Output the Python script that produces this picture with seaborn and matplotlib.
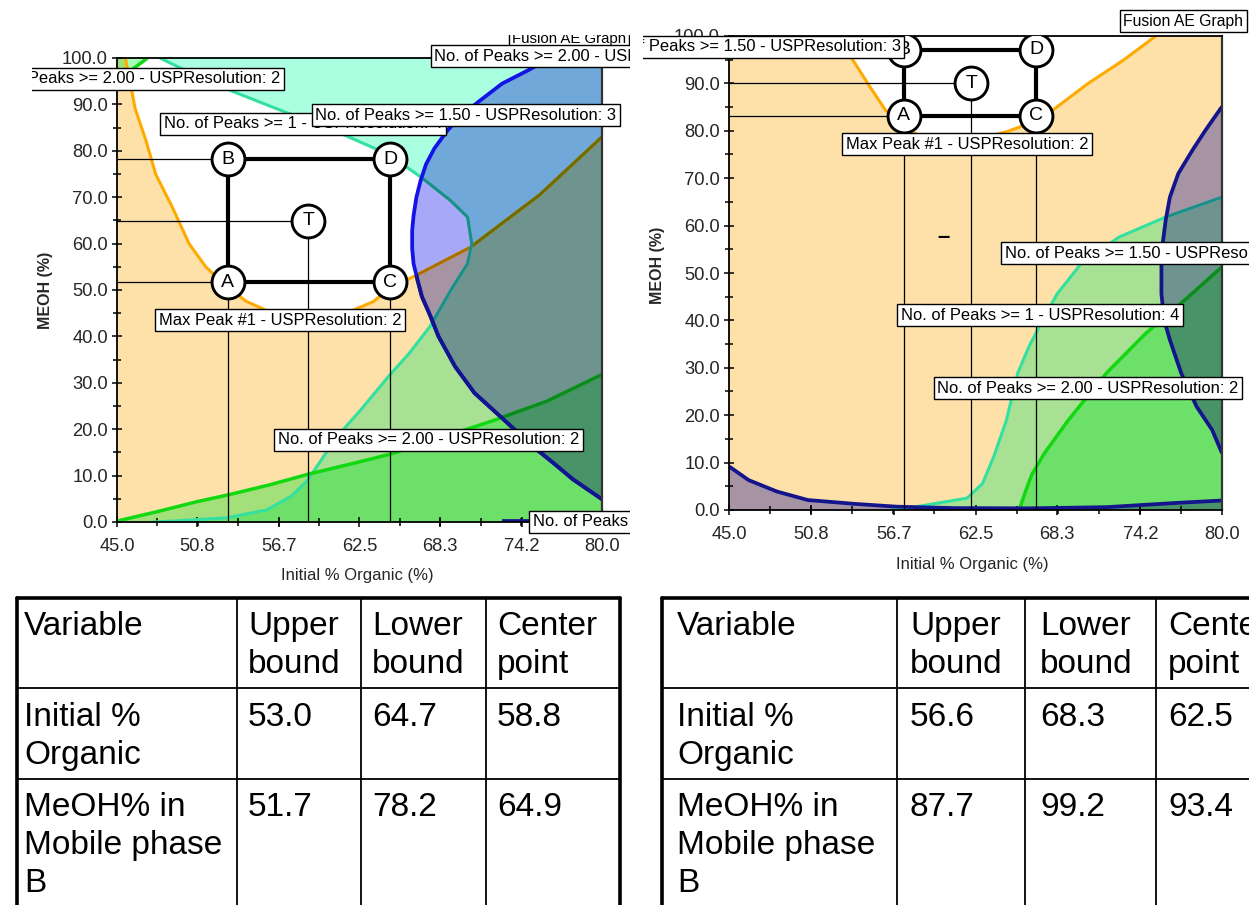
import numpy as np
import matplotlib
matplotlib.use("Agg")
import matplotlib.pyplot as plt
import seaborn as sns
from matplotlib.path import Path
from matplotlib.patches import PathPatch
from matplotlib.transforms import Bbox, TransformedBbox
from matplotlib.ticker import FixedLocator, FormatStrFormatter

# ---------------------------------------------------------------- data
table_headers = ["Variable", "Upper\nbound", "Lower\nbound", "Center\npoint"]
table_variables = ["Initial %\nOrganic", "MeOH% in\nMobile phase\nB"]
left_upper = [53.0, 51.7]
left_lower = [64.7, 78.2]
left_center = [58.8, 64.9]
right_upper = [56.6, 87.7]
right_lower = [68.3, 99.2]
right_center = [62.5, 93.4]

# design box of the second graph (low, high, centre)
right_box_x = [57.4, 66.8, 62.2]
right_box_y = [83.2, 97.1, 90.0]

x_ticks = [45.0, 50.8, 56.7, 62.5, 68.3, 74.2, 80.0]
y_ticks = [0.0, 10.0, 20.0, 30.0, 40.0, 50.0, 60.0, 70.0, 80.0, 90.0, 100.0]

# constraint boundaries, first graph
l_max_x = [45.6, 46.0, 46.3, 47.1, 47.8, 49.0, 50.2, 51.4, 52.7, 54.3, 56.0, 58.0,
           60.0, 62.0, 63.5, 64.6, 67.0, 70.5, 75.5, 80.0]
l_max_y = [100.0, 94.0, 89.2, 82.1, 74.9, 67.8, 60.0, 55.0, 51.4, 47.6, 45.3, 44.3,
           44.5, 45.6, 47.5, 50.2, 53.8, 59.2, 70.5, 83.0]
l_p1_x = [48.1, 50.5, 53.1, 57.0, 60.8, 64.6, 67.0, 69.1, 70.3, 70.6, 70.3, 69.1,
          67.6, 66.1, 64.6, 62.6, 61.5, 60.4, 59.5, 58.7, 57.6, 55.8, 52.9, 49.0, 47.5]
l_p1_y = [100.0, 96.5, 93.1, 88.5, 84.2, 79.2, 74.2, 69.2, 65.7, 60.0, 55.7, 50.0,
          42.2, 36.4, 31.4, 24.2, 20.5, 16.3, 12.3, 8.8, 5.6, 2.6, 0.9, 0.2, 0.0]
l_p2_x = [45.0, 48.0, 50.8, 53.1, 56.0, 58.8, 62.0, 64.7, 68.0, 72.0, 76.0, 80.0]
l_p2_y = [0.2, 2.3, 4.4, 5.9, 8.0, 10.3, 12.6, 14.6, 17.8, 21.7, 26.0, 31.8]
l_p2c_x = [45.0, 46.0, 47.2]
l_p2c_y = [94.5, 97.3, 100.0]
l_p15_x = [76.2, 74.7, 72.8, 71.1, 69.8, 68.8, 67.9, 67.3, 66.9, 66.6, 66.4, 66.3,
           66.3, 66.4, 66.7, 67.0, 67.6, 68.2, 69.4, 70.8, 72.9, 75.0, 76.5, 77.9, 80.0]
l_p15_y = [100.0, 97.4, 94.5, 90.6, 87.5, 84.2, 80.5, 77.1, 73.5, 69.9, 66.0, 62.8,
           59.0, 55.7, 52.0, 48.6, 44.5, 40.0, 33.5, 27.8, 22.1, 16.3, 12.7, 9.2, 4.9]
l_p15b_x = [72.8, 74.8]
l_p15b_y = [0.3, 0.3]

# constraint boundaries, second graph
r_max_x = [52.8, 53.8, 55.0, 56.1, 57.5, 58.8, 60.5, 62.5, 64.7, 66.3, 68.0, 70.5, 73.0, 75.3]
r_max_y = [100.0, 94.9, 89.3, 84.4, 80.5, 78.6, 77.8, 78.2, 79.8, 81.5, 84.4, 90.0, 94.9, 100.0]
r_p1_x = [56.5, 58.5, 59.7, 61.9, 63.0, 63.8, 64.7, 65.5, 66.3, 67.4, 68.3, 70.0, 72.7, 76.0, 80.0]
r_p1_y = [0.0, 0.8, 1.4, 2.5, 5.6, 11.3, 19.0, 28.9, 34.5, 40.8, 45.6, 52.0, 57.6, 61.8, 66.0]
r_p2_x = [65.6, 66.0, 66.5, 67.4, 69.1, 71.8, 74.6, 77.4, 80.0]
r_p2_y = [0.0, 3.5, 7.5, 12.0, 19.0, 28.9, 37.3, 44.4, 51.3]
r_p15_x = [80.0, 78.8, 77.9, 76.9, 76.3, 76.0, 75.7, 75.7, 75.9, 76.3, 77.1, 78.2, 79.3, 80.0]
r_p15_y = [85.1, 80.0, 75.9, 71.0, 66.0, 61.1, 54.1, 45.6, 40.0, 35.9, 28.9, 21.8, 16.9, 12.0]
r_p15b_x = [45.0, 46.4, 48.4, 50.6, 53.9, 56.9, 61.0, 66.3, 71.8, 76.8, 80.0]
r_p15b_y = [9.2, 6.3, 3.9, 2.1, 1.3, 0.7, 0.4, 0.35, 0.6, 1.5, 2.0]

LBL_P2 = "No. of Peaks >= 2.00 - USPResolution: 2"
LBL_P15 = "No. of Peaks >= 1.50 - USPResolution: 3"
LBL_P1 = "No. of Peaks >= 1 - USPResolution: 4"
LBL_MAX = "Max Peak #1 - USPResolution: 2"
LBL_TITLE = "Fusion AE Graph"

# ---------------------------------------------------------------- style
W, H = 1249, 905
XMIN, XMAX, YMIN, YMAX = 45.0, 80.0, 0.0, 100.0
E = 1.5  # polygon overrun beyond the plotting window

F_ORANGE = (253, 225, 169)
F_CYAN = (170, 255, 224)
F_GREEN = (166, 254, 183)
F_BLUE = (168, 168, 248)

C_ORANGE, C_ORANGE_B, C_ORANGE_BC = "#FFAA00", "#A87000", "#6E6E00"
C_CYAN, C_CYAN_B = "#33E0A0", "#1F8C8C"
C_GREEN, C_GREEN_B = "#12D812", "#0E8A22"
C_BLUE, C_NAVY = "#1414E6", "#14148C"

sns.set_theme(style="white")
plt.rcParams["font.family"] = ["Liberation Sans", "DejaVu Sans"]

fig = plt.figure(figsize=(W / 100, H / 100), dpi=100)
fig.patch.set_facecolor("white")


def frac_axes(x0, y0, x1, y1):
    return fig.add_axes([x0 / W, 1 - y1 / H, (x1 - x0) / W, (y1 - y0) / H])


def screen(x0, y0, x1, y1):
    return TransformedBbox(Bbox([[x0 / W, 1 - y1 / H], [x1 / W, 1 - y0 / H]]), fig.transFigure)


def region(curve_x, curve_y, head, tail):
    return head + list(zip(curve_x, curve_y)) + tail


def shade(ax, layers, res=1000):
    gx = np.linspace(XMIN, XMAX, res)
    gy = np.linspace(YMIN, YMAX, res)
    X, Y = np.meshgrid(gx, gy)
    pts = np.column_stack([X.ravel(), Y.ravel()])
    img = np.ones((res * res, 3))
    for verts, col in layers:
        inside = Path(verts).contains_points(pts)
        img[inside] *= np.array(col) / 255.0
    ax.imshow(img.reshape(res, res, 3), extent=(XMIN, XMAX, YMIN, YMAX), origin="lower",
              aspect="auto", interpolation="nearest", zorder=0)


def curve(ax, x, y, color, lw, clip=None, z=2):
    sns.lineplot(x=x, y=y, sort=False, estimator=None, color=color, linewidth=lw, ax=ax, zorder=z)
    ln = ax.lines[-1]
    ln.set_solid_capstyle("butt")
    if clip is not None:
        ln.set_clip_path(PathPatch(Path(clip), transform=ax.transData))


def design_box(ax, xs, ys):
    xlo, xhi, xc = xs
    ylo, yhi, yc = ys
    ax.hlines([ylo, yhi, yc], XMIN, [xlo, xlo, xc], color="black", lw=0.9, zorder=3)
    ax.vlines([xlo, xc, xhi], YMIN, [ylo, yc, ylo], color="black", lw=0.9, zorder=3)
    sns.lineplot(x=[xlo, xhi, xhi, xlo, xlo], y=[ylo, ylo, yhi, yhi, ylo], sort=False,
                 estimator=None, color="black", linewidth=3.0, ax=ax, zorder=4)
    px = [xlo, xlo, xhi, xhi, xc]
    py = [ylo, yhi, ylo, yhi, yc]
    sns.scatterplot(x=px, y=py, s=560, color="white", edgecolor="black", linewidth=2.1,
                    ax=ax, zorder=5, legend=False)
    for lab, x, y in zip("ABCDT", px, py):
        ax.text(x, y, lab, ha="center", va="center", fontsize=14, color="black", zorder=6)


def frame(ax, ylab_pos, xlab_pos):
    ax.set_xlim(XMIN, XMAX)
    ax.set_ylim(YMIN, YMAX)
    ax.xaxis.set_major_locator(FixedLocator(x_ticks))
    ax.xaxis.set_minor_locator(FixedLocator(np.linspace(XMIN, XMAX, 13)))
    ax.yaxis.set_major_locator(FixedLocator(y_ticks))
    ax.yaxis.set_minor_locator(FixedLocator(np.arange(YMIN, YMAX + 1, 5.0)))
    ax.xaxis.set_major_formatter(FormatStrFormatter("%.1f"))
    ax.yaxis.set_major_formatter(FormatStrFormatter("%.1f"))
    ax.tick_params(which="both", direction="inout", color="black", width=1.1,
                   bottom=True, left=True, top=False, right=False)
    ax.tick_params(which="major", length=7, labelsize=13.2)
    ax.tick_params(axis="x", which="major", pad=8)
    ax.tick_params(axis="y", which="major", pad=3)
    ax.tick_params(which="minor", length=6)
    for side in ["left", "bottom", "top"]:
        ax.spines[side].set_color("black")
        ax.spines[side].set_linewidth(1.3)
    ax.spines["right"].set_color("#333333")
    ax.spines["right"].set_linewidth(1.6)
    ax.set_ylabel("MEOH (%)", fontsize=11.5, fontweight="bold")
    ax.set_xlabel("Initial % Organic (%)", fontsize=12)
    ax.yaxis.set_label_coords(*ylab_pos)
    ax.xaxis.set_label_coords(*xlab_pos)
    ax.yaxis.label.set_va("center")
    ax.xaxis.label.set_va("center")
    ax.grid(False)


def tag(ax, clip, x, y, s, ha="left", z=10, size=11.9):
    t = ax.text(x, y, s, ha=ha, va="center", fontsize=size, color="black", zorder=z,
                bbox=dict(boxstyle="square,pad=0.22", fc="white", ec="black", lw=1.0))
    t.set_clip_path(None)
    t.set_clip_box(clip)
    t.set_clip_on(True)
    return t


# ================================================================ first graph
axl = frac_axes(117, 58, 602, 522)
lo_orange = region(l_max_x, l_max_y, [(XMIN - E, YMAX + E), (l_max_x[0], YMAX + E)],
                   [(XMAX + E, l_max_y[-1]), (XMAX + E, YMIN - E), (XMIN - E, YMIN - E)])
lo_p1 = region(l_p1_x, l_p1_y, [(l_p1_x[0], YMAX + E)],
               [(l_p1_x[-1], YMIN - E), (XMAX + E, YMIN - E), (XMAX + E, YMAX + E)])
lo_p2 = region(l_p2_x, l_p2_y, [(XMIN - E, l_p2_y[0])],
               [(XMAX + E, l_p2_y[-1]), (XMAX + E, YMIN - E), (XMIN - E, YMIN - E)])
lo_p2c = region(l_p2c_x, l_p2c_y, [(XMIN - E, l_p2c_y[0])],
                [(l_p2c_x[-1], YMAX + E), (XMIN - E, YMAX + E)])
lo_p15 = region(l_p15_x, l_p15_y, [(l_p15_x[0], YMAX + E)],
                [(XMAX + E, l_p15_y[-1]), (XMAX + E, YMAX + E)])
shade(axl, [(lo_orange, F_ORANGE), (lo_p1, F_CYAN), (lo_p2, F_GREEN),
            (lo_p2c, F_GREEN), (lo_p15, F_BLUE)])

curve(axl, l_max_x, l_max_y, C_ORANGE, 2.2)
curve(axl, l_max_x, l_max_y, C_ORANGE_B, 2.2, clip=lo_p15)
curve(axl, l_max_x, l_max_y, C_ORANGE_BC, 2.2, clip=lo_p1)
curve(axl, l_p1_x, l_p1_y, C_CYAN, 2.2)
curve(axl, l_p1_x, l_p1_y, C_CYAN_B, 2.2, clip=lo_p15)
curve(axl, l_p2_x, l_p2_y, C_GREEN, 2.5)
curve(axl, l_p2_x, l_p2_y, C_GREEN_B, 2.5, clip=lo_p15)
curve(axl, l_p2c_x, l_p2c_y, C_GREEN, 2.5)
curve(axl, l_p15_x, l_p15_y, C_BLUE, 2.7)
curve(axl, l_p15_x, l_p15_y, C_NAVY, 2.7, clip=lo_orange)
curve(axl, l_p15b_x, l_p15b_y, C_NAVY, 2.7)

design_box(axl, [left_upper[0], left_lower[0], left_center[0]],
           [left_upper[1], left_lower[1], left_center[1]])
frame(axl, (-0.148, 0.5), (0.495, -0.116))

clip_l = screen(32, 35, 630, 585)
tag(axl, clip_l, 73.5, 104.2, LBL_TITLE, z=9, size=10.8)
tag(axl, clip_l, 67.9, 100.4, LBL_P2, z=10)
tag(axl, clip_l, 56.8, 95.5, LBL_P2, ha="right")
tag(axl, clip_l, 48.4, 85.8, LBL_P1, z=10)
tag(axl, clip_l, 59.3, 87.7, LBL_P15, z=11)
tag(axl, clip_l, 48.0, 43.5, LBL_MAX)
tag(axl, clip_l, 56.6, 17.7, LBL_P2)
tag(axl, clip_l, 75.0, 0.0, LBL_P15)

# ================================================================ second graph
axr = frac_axes(729, 36, 1222, 510)
ro_orange = region(r_max_x, r_max_y, [(XMIN - E, YMAX + E), (r_max_x[0], YMAX + E)],
                   [(r_max_x[-1], YMAX + E), (XMAX + E, YMAX + E), (XMAX + E, YMIN - E),
                    (XMIN - E, YMIN - E)])
ro_p1 = region(r_p1_x, r_p1_y, [(r_p1_x[0], YMIN - E)], [(XMAX + E, r_p1_y[-1]), (XMAX + E, YMIN - E)])
ro_p2 = region(r_p2_x, r_p2_y, [(r_p2_x[0], YMIN - E)], [(XMAX + E, r_p2_y[-1]), (XMAX + E, YMIN - E)])
ro_p15 = region(r_p15_x, r_p15_y, [(XMAX + E, r_p15_y[0])], [(XMAX + E, r_p15_y[-1])])
ro_p15b = region(r_p15b_x, r_p15b_y, [(XMIN - E, r_p15b_y[0])],
                 [(XMAX + E, r_p15b_y[-1]), (XMAX + E, YMIN - E), (XMIN - E, YMIN - E)])
shade(axr, [(ro_orange, F_ORANGE), (ro_p1, F_CYAN), (ro_p2, F_GREEN),
            (ro_p15, F_BLUE), (ro_p15b, F_BLUE)])

curve(axr, r_max_x, r_max_y, C_ORANGE, 2.2)
curve(axr, r_p1_x, r_p1_y, C_CYAN, 2.2)
curve(axr, r_p1_x, r_p1_y, C_CYAN_B, 2.2, clip=ro_p15)
curve(axr, r_p2_x, r_p2_y, C_GREEN, 2.5)
curve(axr, r_p2_x, r_p2_y, C_GREEN_B, 2.5, clip=ro_p15)
curve(axr, r_p15_x, r_p15_y, C_NAVY, 2.7)
curve(axr, r_p15b_x, r_p15b_y, C_NAVY, 2.7)

design_box(axr, right_box_x, right_box_y)
axr.text(60.2, 57.5, "\u2013", ha="center", va="center", fontsize=16, fontweight="bold",
         color="black", zorder=6)
frame(axr, (-0.146, 0.517), (0.493, -0.114))

clip_r = screen(643, 0, 1249, 585)
tag(axr, clip_r, 73.0, 103.1, LBL_TITLE, size=11.3)
tag(axr, clip_r, 57.2, 97.7, LBL_P15, ha="right")
tag(axr, clip_r, 53.3, 77.2, LBL_MAX)
tag(axr, clip_r, 64.6, 54.2, LBL_P15)
tag(axr, clip_r, 57.2, 41.1, LBL_P1)
tag(axr, clip_r, 59.8, 25.7, LBL_P2)

# ================================================================ tables
tab = fig.add_axes([0, 0, 1, 1])
tab.set_zorder(-1)
tab.patch.set_alpha(0)
tab.set_xlim(0, W)
tab.set_ylim(H, 0)
tab.axis("off")

row_tops = [598, 688, 779]
row_text = [626, 717, 807]
LINE = 38


def draw_table(x_left, col_lines, x_right, text_x, upper, lower, center, right_border):
    for xc in col_lines:
        tab.plot([xc, xc], [row_tops[0], H + 5], color="black", lw=1.3)
    for yr in row_tops[1:]:
        tab.plot([x_left, x_right], [yr, yr], color="black", lw=1.3)
    tab.plot([x_left, x_right], [row_tops[0], row_tops[0]], color="black", lw=2.6)
    tab.plot([x_left, x_left], [row_tops[0], H + 5], color="black", lw=2.6)
    if right_border:
        tab.plot([x_right, x_right], [row_tops[0], H + 5], color="black", lw=2.6)
    rows = [table_headers,
            [table_variables[0], f"{upper[0]:.1f}", f"{lower[0]:.1f}", f"{center[0]:.1f}"],
            [table_variables[1], f"{upper[1]:.1f}", f"{lower[1]:.1f}", f"{center[1]:.1f}"]]
    for ri, cells in enumerate(rows):
        for ci, cell in enumerate(cells):
            for li, line in enumerate(cell.split("\n")):
                tab.text(text_x[ci], row_text[ri] + li * LINE, line, ha="left", va="center",
                         fontsize=24, color="black")


draw_table(17, [237, 361, 486], 620, [24, 248, 372, 497],
           left_upper, left_lower, left_center, True)
draw_table(662, [897, 1025, 1156], W + 10, [677, 910, 1040, 1168],
           right_upper, right_lower, right_center, False)

fig.savefig("out.png", dpi=100, facecolor="white")
